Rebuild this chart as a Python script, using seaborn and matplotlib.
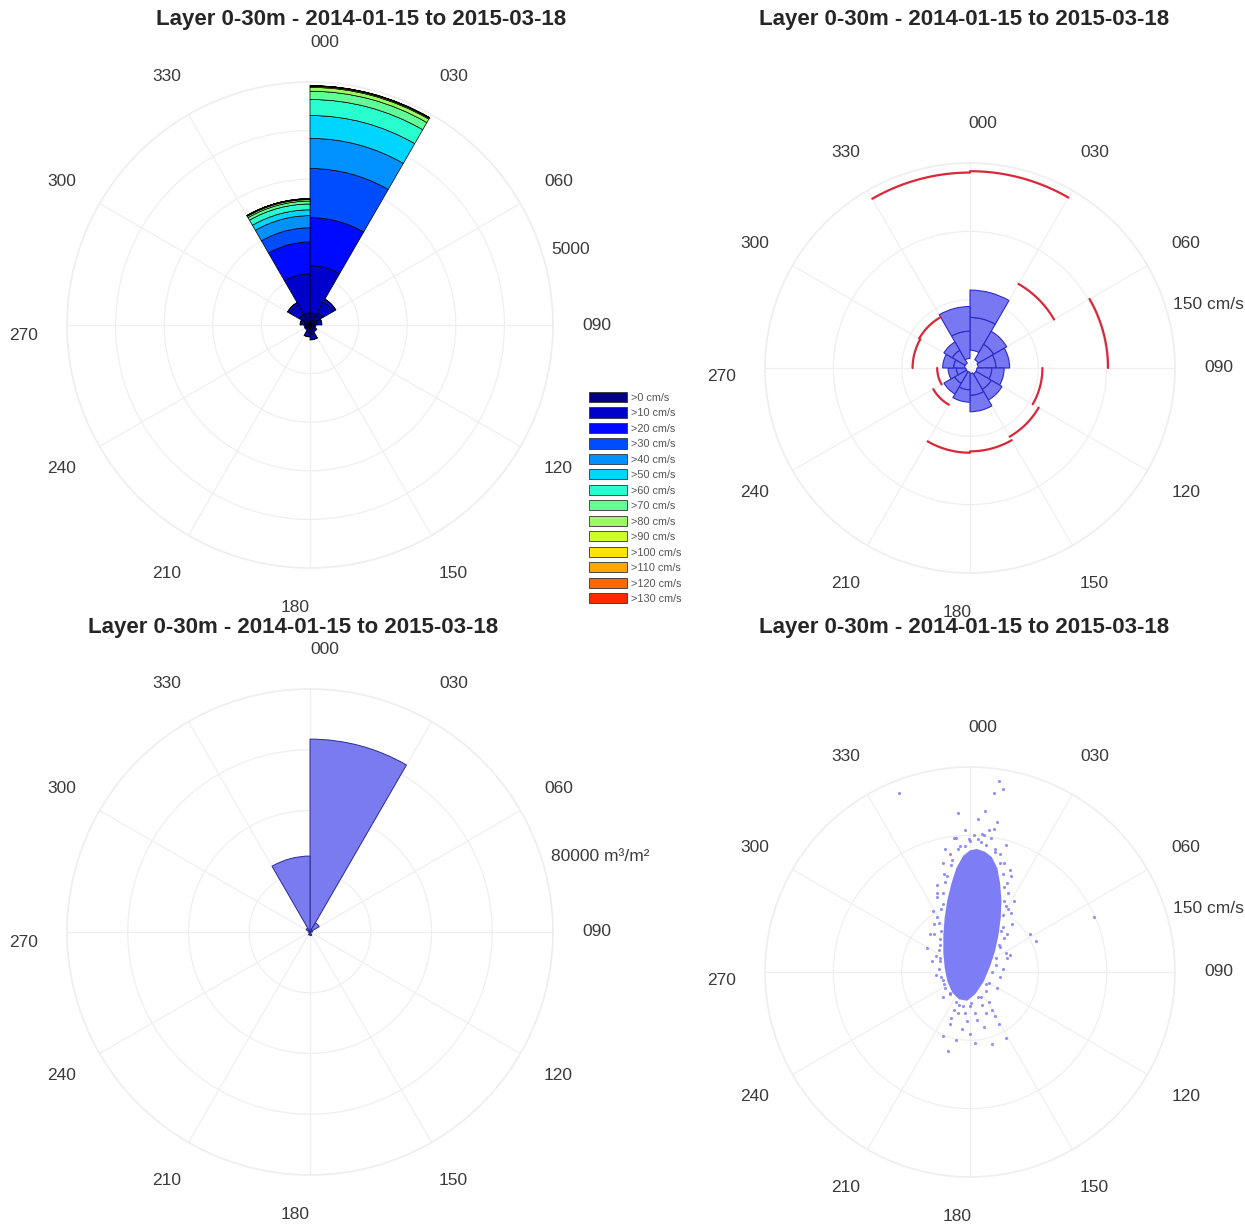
import numpy as np
import pandas as pd
import matplotlib
matplotlib.use('Agg')
import matplotlib.pyplot as plt
from matplotlib.patches import Patch
import seaborn as sns

title = 'Layer 0-30m - 2014-01-15 to 2015-03-18'
sector_start = [0, 30, 60, 90, 120, 150, 180, 210, 240, 270, 300, 330]
dir_labels = ['000', '030', '060', '090', '120', '150', '180', '210', '240', '270', '300', '330']
speed_classes = ['>0 cm/s', '>10 cm/s', '>20 cm/s', '>30 cm/s', '>40 cm/s', '>50 cm/s', '>60 cm/s',
                 '>70 cm/s', '>80 cm/s', '>90 cm/s', '>100 cm/s', '>110 cm/s', '>120 cm/s', '>130 cm/s']

# current rose: number of records per speed class in each 30 deg sector
n_000 = [250, 970, 990, 1010, 620, 470, 330, 170, 80, 20, 8, 4, 2, 2]
n_030 = [300, 250, 60, 7, 0, 0, 0, 0, 0, 0, 0, 0, 0, 0]
n_060 = [150, 90, 7, 0, 0, 0, 0, 0, 0, 0, 0, 0, 0, 0]
n_090 = [90, 33, 0, 0, 0, 0, 0, 0, 0, 0, 0, 0, 0, 0]
n_120 = [110, 55, 0, 0, 0, 0, 0, 0, 0, 0, 0, 0, 0, 0]
n_150 = [200, 100, 9, 0, 0, 0, 0, 0, 0, 0, 0, 0, 0, 0]
n_180 = [160, 80, 7, 0, 0, 0, 0, 0, 0, 0, 0, 0, 0, 0]
n_210 = [90, 33, 0, 0, 0, 0, 0, 0, 0, 0, 0, 0, 0, 0]
n_240 = [90, 33, 0, 0, 0, 0, 0, 0, 0, 0, 0, 0, 0, 0]
n_270 = [130, 70, 6, 0, 0, 0, 0, 0, 0, 0, 0, 0, 0, 0]
n_300 = [260, 220, 50, 5, 0, 0, 0, 0, 0, 0, 0, 0, 0, 0]
n_330 = [250, 800, 660, 290, 250, 120, 120, 60, 30, 10, 6, 2, 1, 1]

# speed statistics per sector (cm/s)
spd_p10 = [13, 7, 6, 5, 5, 4, 3, 3, 3, 4, 4, 7]
spd_p50 = [37, 20, 19, 16, 18, 20, 16, 13, 10, 12, 15, 27]
spd_p90 = [57, 31, 29, 25, 27, 32, 25, 22, 16, 20, 22, 45]
spd_max = [144, 71, 101, 53, 58, 61, 62, 31, 24, 42, 43, 143]

# transport per sector (m3/m2)
transport = [63500, 3500, 800, 300, 400, 1200, 1000, 300, 300, 600, 1500, 25000]

# velocity scatter (cm/s): outline of the dense core and scattered points
core_u = [5, 11, 16, 20, 22, 23, 22.5, 21, 18.5, 15, 10, 4, -2, -8, -13, -16.5, -18.5, -19.5,
          -19.5, -18.5, -16.5, -13.5, -10, -5, 0]
core_v = [90, 88, 84, 76, 65, 52, 40, 28, 16, 5, -7, -16, -21, -20, -15, -7, 3, 14,
          27, 40, 53, 65, 76, 85, 89]
pts_u = [24, 17.6, 21.4, -8.8, 11.3, 17.6, 8.8, 15, 26.5, -3.8, -24, -29, 30, 44, 48, -31.5, 91, 29,
         16.4, 21.4, 16.4, 26.5, -16.4, -10, -15, 3.8, -20, -51.7,
         -22, -21, -20, -18, -14, -9, 0, 8, 18, 25, 27, 26, 24, 22, 19, 14, 8, 0, -8, -15, -20, -23,
         -24, -19, 3, 22, 28, 25, 12, -4, -18, -22, -12, 5, 14, 20, 27, 31, 30, 14, -4, -15, -24,
         -26, -25, 10, -6, 18, -2, 24, 32, 20, 6, -12, -20, -27, -28, -14, 12, 0,
         -21, -22, -23, -22, -23, -21, -20, -17, -13, -7, -1, 6, 12, 18, 22, 24, 25, 25, 24, 23,
         21, 19, 16, 12, 6, 1, -5, -10, -15, -19, -25, -26, -24, 28, 27, 26, -9, 4, 9, -20, 22,
         29, 10, -10, -18]
pts_v = [134, 131, 140, 116, 118, 105, 101, 98, 93, 92, 58, 28, 43, 28, 23, 17.6, 40, 12.6,
         -27.7, -37.8, -53, -48, -58, -50, -38, -51.7, -46.6, 131,
         10, 30, 50, 66, 78, 90, 96, 95, 90, 80, 65, 48, 33, 18, 5, -8, -18, -25, -24, -16, -6, 2,
         40, 72, 100, 86, 58, 25, -14, -30, -12, 20, -28, -35, -22, -12, 10, 35, 70, 104, 104, 86, 55,
         35, -2, -40, -42, -32, -36, 2, 52, 110, 112, 98, 80, 45, 8, -34, -30, -45,
         -4, 8, 16, 24, 36, 46, 58, 70, 82, 92, 97, 97, 93, 88, 80, 72, 62, 52, 42, 30,
         20, 10, 0, -9, -18, -23, -25, -22, -15, -9, 12, 28, 64, 46, 28, 14, -30, -30, -24, -18, -4,
         75, 100, 98, 90]

jet_colors = sns.color_palette(plt.cm.jet(np.linspace(0, 1, 16))[:14])

sns.set_theme(style='white')
plt.rcParams['font.family'] = ['Liberation Sans', 'DejaVu Sans']

fig = plt.figure(figsize=(12.45, 12.25), dpi=100)
W, H = 1245, 1225
GRID = '#efefef'


def make_polar(cx, cy, rad):
    ax = fig.add_axes([(cx - rad) / W, (H - cy - rad) / H, 2 * rad / W, 2 * rad / H], projection='polar')
    ax.set_theta_zero_location('N')
    ax.set_theta_direction(-1)
    ax.rad_px = rad
    return ax


def frame(ax, rmax, rings, unit_label):
    ax.set_rlim(0, rmax)
    ax.set_rticks(rings)
    ax.set_yticklabels([])
    ax.set_thetagrids(sector_start, labels=[''] * 12)
    ax.grid(True, color=GRID, lw=0.9)
    ax.spines['polar'].set_color(GRID)
    ax.set_axisbelow(True)
    for a, lab in zip(sector_start, dir_labels):
        off = {0: 3, 180: 3, 270: -2}.get(a, 0)
        extra = 40 if a in (0, 180) else 44
        lab_r = rmax * (1 + extra / ax.rad_px)
        ax.text(np.deg2rad(a + off), lab_r, lab, ha='center', va='center',
                fontsize=12.5, color='#3a3a3a')
    ax.text(np.deg2rad(72.6), 1.04 * rmax, unit_label, ha='left', va='center',
            fontsize=12.5, color='#3a3a3a')


centers = np.deg2rad(np.array(sector_start) + 15)
width = np.deg2rad(30)

# --- top left: stacked speed-class rose
sectors = [n_000, n_030, n_060, n_090, n_120, n_150, n_180, n_210, n_240, n_270, n_300, n_330]
rose = pd.DataFrame(sectors, columns=speed_classes)
rose['theta'] = centers

ax1 = make_polar(310, 325, 243)
frame(ax1, 5000, [1000, 2000, 3000, 4000, 5000], '5000')
bottom = np.zeros(len(rose))
for k, cls in enumerate(speed_classes):
    h = rose[cls].to_numpy(dtype=float)
    m = h > 0
    ax1.bar(rose['theta'][m], h[m], width=width, bottom=bottom[m], color=jet_colors[k],
            edgecolor='black', linewidth=0.5)
    bottom += h

handles = [Patch(facecolor=c, edgecolor='#333333', linewidth=0.6) for c in jet_colors]
fig.legend(handles, speed_classes, loc='upper left', bbox_to_anchor=(589 / W, 1 - 392 / H),
           frameon=False, fontsize=7.8, handlelength=3.5, handleheight=1.05,
           labelspacing=0.44, handletextpad=0.35, borderpad=0, borderaxespad=0,
           labelcolor='#555555')

# --- top right: speed percentiles and maxima
ax2 = make_polar(970, 368, 205)
frame(ax2, 150, [50, 100, 150], '150 cm/s')
p10 = np.array(spd_p10)
p50 = np.array(spd_p50)
p90 = np.array(spd_p90)
ax2.bar(centers, p50 - p10, width=width, bottom=p10, color='#7878f2', edgecolor='#2a2ac8', linewidth=0.8)
ax2.bar(centers, p90 - p50, width=width, bottom=p50, color='#7878f2', edgecolor='#2a2ac8', linewidth=0.8)
for s, mx in zip(sector_start, spd_max):
    th = np.deg2rad(np.linspace(s, s + 30, 31))
    ax2.plot(th, np.full_like(th, mx), color='#d8283a', lw=1.6)

# --- bottom left: transport rose
ax3 = make_polar(310, 932, 243)
frame(ax3, 80000, [20000, 40000, 60000, 80000], '80000 m³/m²')
ax3.bar(centers, transport, width=width, color='#7b7bf0', edgecolor='#2a2a90', linewidth=0.7)

# --- bottom right: velocity scatter
ax4 = make_polar(970, 972, 205)
frame(ax4, 150, [50, 100, 150], '150 cm/s')
cu, cv = np.array(core_u), np.array(core_v)
ax4.fill(np.arctan2(cu, cv), np.hypot(cu, cv), color='#7d7df5', lw=0)
pu, pv = np.array(pts_u), np.array(pts_v)
sns.scatterplot(x=np.arctan2(pu, pv), y=np.hypot(pu, pv), ax=ax4, s=5, color='#7d7df5',
                linewidth=0, alpha=0.85)
ax4.set_rlim(0, 150)

for x, y in [(361, 20), (964, 20), (293, 627), (964, 627)]:
    fig.text(x / W, 1 - y / H, title, ha='center', va='center', fontsize=16, fontweight='bold')

fig.savefig('out.png', dpi=100)
